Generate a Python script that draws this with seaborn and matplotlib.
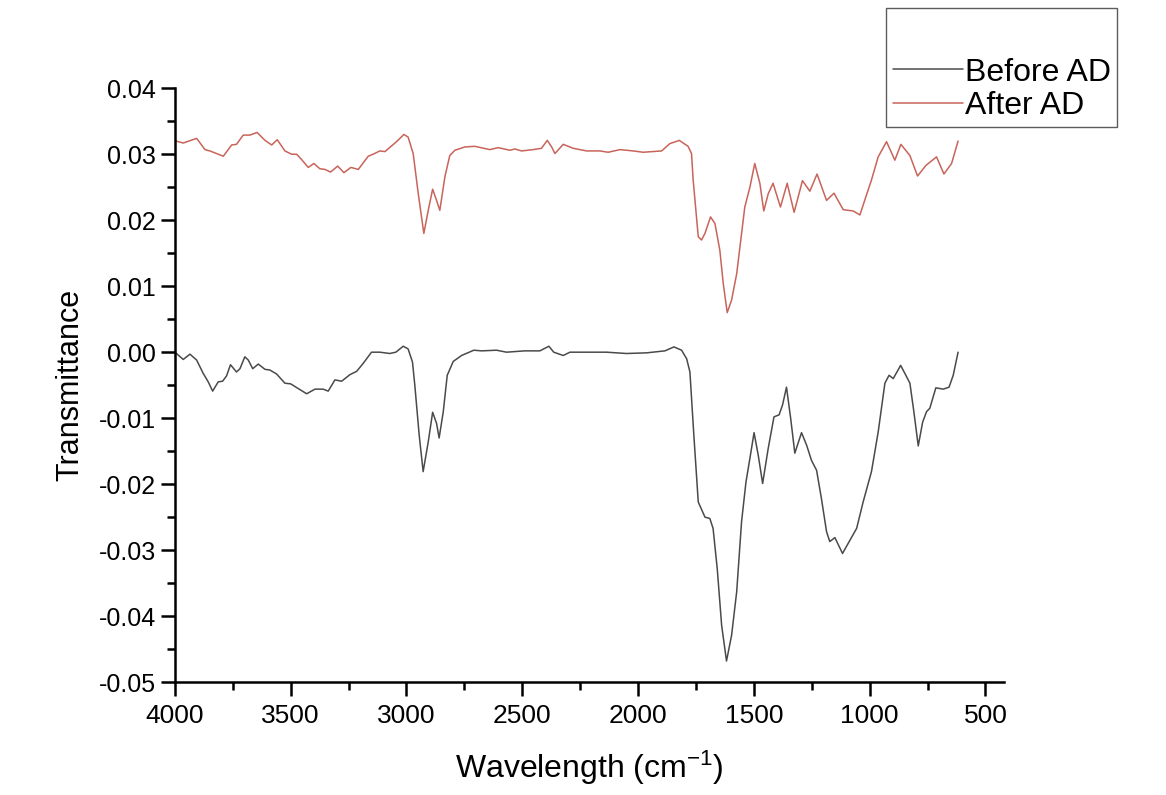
import numpy as np
import pandas as pd
import matplotlib
matplotlib.use("Agg")
import matplotlib.pyplot as plt
import seaborn as sns
from matplotlib.ticker import MultipleLocator, FuncFormatter

# FTIR spectra
after_wn = [3996, 3964, 3906, 3870, 3849, 3820, 3791, 3755, 3734, 3705, 3676, 3645, 3611, 3582,
            3558, 3525, 3496, 3474, 3453, 3424, 3400, 3374, 3352, 3328, 3297, 3270, 3240, 3208,
            3165, 3144, 3115, 3093, 3043, 3011, 2993, 2971, 2949, 2925, 2906, 2887, 2870, 2856,
            2834, 2813, 2791, 2748, 2705, 2640, 2604, 2553, 2532, 2503, 2453, 2417, 2392, 2373,
            2359, 2323, 2280, 2222, 2165, 2129, 2078, 2021, 1978, 1898, 1863, 1822, 1784, 1769,
            1762, 1740, 1726, 1711, 1687, 1668, 1647, 1632, 1615, 1596, 1574, 1539, 1517, 1496,
            1474, 1457, 1438, 1417, 1385, 1356, 1326, 1290, 1258, 1227, 1186, 1154, 1114, 1071,
            1042, 992, 963, 927, 891, 865, 826, 793, 757, 711, 679, 646, 618]
after_t = [0.0320, 0.0317, 0.0324, 0.0307, 0.0305, 0.0301, 0.0297, 0.0314, 0.0315, 0.0329,
           0.0329, 0.0333, 0.0321, 0.0314, 0.0322, 0.0305, 0.0300, 0.0300, 0.0292, 0.0280,
           0.0286, 0.0278, 0.0277, 0.0273, 0.0282, 0.0272, 0.0280, 0.0277, 0.0297, 0.0300,
           0.0305, 0.0304, 0.0319, 0.0330, 0.0326, 0.0301, 0.0240, 0.0180, 0.0215, 0.0247,
           0.0230, 0.0215, 0.0266, 0.0298, 0.0306, 0.0311, 0.0312, 0.0307, 0.0310, 0.0306,
           0.0308, 0.0305, 0.0307, 0.0309, 0.0321, 0.0311, 0.0301, 0.0315, 0.0309, 0.0305,
           0.0305, 0.0303, 0.0307, 0.0305, 0.0303, 0.0305, 0.0316, 0.0321, 0.0312, 0.0301,
           0.0261, 0.0175, 0.0170, 0.0180, 0.0205, 0.0195, 0.0155, 0.0104, 0.0060, 0.0079,
           0.0119, 0.0220, 0.0250, 0.0286, 0.0256, 0.0214, 0.0240, 0.0256, 0.0220, 0.0256,
           0.0212, 0.0260, 0.0244, 0.0270, 0.0230, 0.0241, 0.0216, 0.0214, 0.0208, 0.0261,
           0.0296, 0.0319, 0.0291, 0.0315, 0.0298, 0.0267, 0.0283, 0.0296, 0.0270, 0.0286,
           0.0320]

before_wn = [4000, 3964, 3935, 3906, 3878, 3856, 3837, 3813, 3794, 3777, 3760, 3734, 3719, 3698,
             3683, 3664, 3640, 3611, 3590, 3561, 3525, 3500, 3468, 3431, 3395, 3360, 3338, 3309,
             3280, 3244, 3215, 3187, 3151, 3115, 3072, 3046, 3014, 2993, 2974, 2964, 2945, 2928,
             2906, 2887, 2870, 2859, 2841, 2824, 2798, 2762, 2709, 2676, 2611, 2568, 2489, 2424,
             2385, 2364, 2323, 2294, 2222, 2136, 2050, 1963, 1884, 1845, 1812, 1790, 1776, 1759,
             1740, 1711, 1690, 1676, 1658, 1639, 1618, 1596, 1574, 1553, 1534, 1517, 1499, 1481,
             1462, 1438, 1413, 1391, 1376, 1359, 1341, 1323, 1294, 1272, 1251, 1229, 1208, 1186,
             1172, 1150, 1117, 1085, 1056, 1028, 992, 963, 934, 916, 898, 866, 848, 826, 809,
             790, 771, 754, 740, 714, 682, 657, 639, 618]
before_t = [0.0000, -0.0011, -0.0003, -0.0012, -0.0032, -0.0045, -0.0059, -0.0045, -0.0044,
            -0.0036, -0.0019, -0.0030, -0.0025, -0.0007, -0.0012, -0.0025, -0.0018, -0.0026,
            -0.0027, -0.0033, -0.0047, -0.0048, -0.0055, -0.0063, -0.0056, -0.0056, -0.0059,
            -0.0042, -0.0044, -0.0034, -0.0029, -0.0017, 0.0000, 0.0000, -0.0002, 0.0000,
            0.0009, 0.0005, -0.0015, -0.0050, -0.0126, -0.0181, -0.0136, -0.0091, -0.0108,
            -0.0130, -0.0090, -0.0035, -0.0014, -0.0005, 0.0003, 0.0002, 0.0003, 0.0000,
            0.0002, 0.0002, 0.0009, 0.0000, -0.0005, 0.0000, 0.0000, 0.0000, -0.0002, -0.0001,
            0.0002, 0.0008, 0.0003, -0.0010, -0.0030, -0.0126, -0.0227, -0.0250, -0.0252,
            -0.0267, -0.0328, -0.0414, -0.0468, -0.0429, -0.0363, -0.0257, -0.0197, -0.0161,
            -0.0122, -0.0156, -0.0199, -0.0146, -0.0098, -0.0095, -0.0080, -0.0053, -0.0100,
            -0.0153, -0.0122, -0.0141, -0.0164, -0.0179, -0.0222, -0.0272, -0.0287, -0.0281,
            -0.0305, -0.0285, -0.0267, -0.0227, -0.0181, -0.0121, -0.0047, -0.0035, -0.0040,
            -0.0020, -0.0032, -0.0047, -0.0090, -0.0142, -0.0106, -0.0090, -0.0085, -0.0054,
            -0.0056, -0.0053, -0.0035, 0.0000]

series_names = ["Before AD", "After AD"]
colors = {"Before AD": "#4a4a4a", "After AD": "#c8645a"}

df = pd.concat([
    pd.DataFrame({"wn": before_wn, "T": before_t, "sample": "Before AD"}),
    pd.DataFrame({"wn": after_wn, "T": after_t, "sample": "After AD"}),
])

sns.set_style("ticks")
plt.rcParams["font.family"] = ["Liberation Sans", "DejaVu Sans"]
plt.rcParams["axes.unicode_minus"] = False
plt.rcParams["mathtext.fontset"] = "custom"
plt.rcParams["mathtext.rm"] = "Liberation Sans"
plt.rcParams["mathtext.it"] = "Liberation Sans:italic"
plt.rcParams["mathtext.default"] = "regular"
plt.rcParams["text.color"] = "black"
plt.rcParams["axes.labelcolor"] = "black"
plt.rcParams["axes.edgecolor"] = "black"

fig = plt.figure(figsize=(11.66, 7.95), dpi=100)
ax = fig.add_axes([0.150, 0.142, 0.711, 0.747])

sns.lineplot(data=df, x="wn", y="T", hue="sample", hue_order=series_names,
             palette=colors, sort=False, estimator=None, linewidth=1.1, ax=ax, legend=False)
for ln in ax.lines:
    ln.set_solid_joinstyle("round")

ax.set_xlim(4000, 420)
ax.set_ylim(-0.05, 0.04)
ax.xaxis.set_major_locator(MultipleLocator(500))
ax.xaxis.set_minor_locator(MultipleLocator(250))
ax.yaxis.set_major_locator(MultipleLocator(0.01))
ax.yaxis.set_minor_locator(MultipleLocator(0.005))
ax.yaxis.set_major_formatter(FuncFormatter(lambda v, p: f"{round(v, 4) + 0.0:.2f}"))

sns.despine(ax=ax)
for s in ["left", "bottom"]:
    ax.spines[s].set_linewidth(1.8)
ax.tick_params(which="major", direction="out", length=10, width=1.8, labelsize=18, colors="black")
ax.tick_params(which="minor", direction="out", length=6, width=1.8, colors="black")
ax.tick_params(axis="x", labelsize=19, pad=6)

ax.set_xlabel("Wavelength (cm$^{-1}$)", fontsize=23, labelpad=15)
ax.set_ylabel("Transmittance", fontsize=22, labelpad=10)

handles = [plt.Line2D([], [], color=colors[n], lw=1.1) for n in series_names]
leg = fig.legend(handles, series_names, loc="upper right", bbox_to_anchor=(0.958, 0.990),
                 fontsize=23, title=" ", title_fontsize=30, handlelength=2.2, handletextpad=0.05,
                 borderpad=0.2, labelspacing=0.1, fancybox=False, frameon=True, borderaxespad=0)
leg.get_frame().set_edgecolor("#333333")
leg.get_frame().set_linewidth(1.0)

fig.savefig("out.png", dpi=100)
